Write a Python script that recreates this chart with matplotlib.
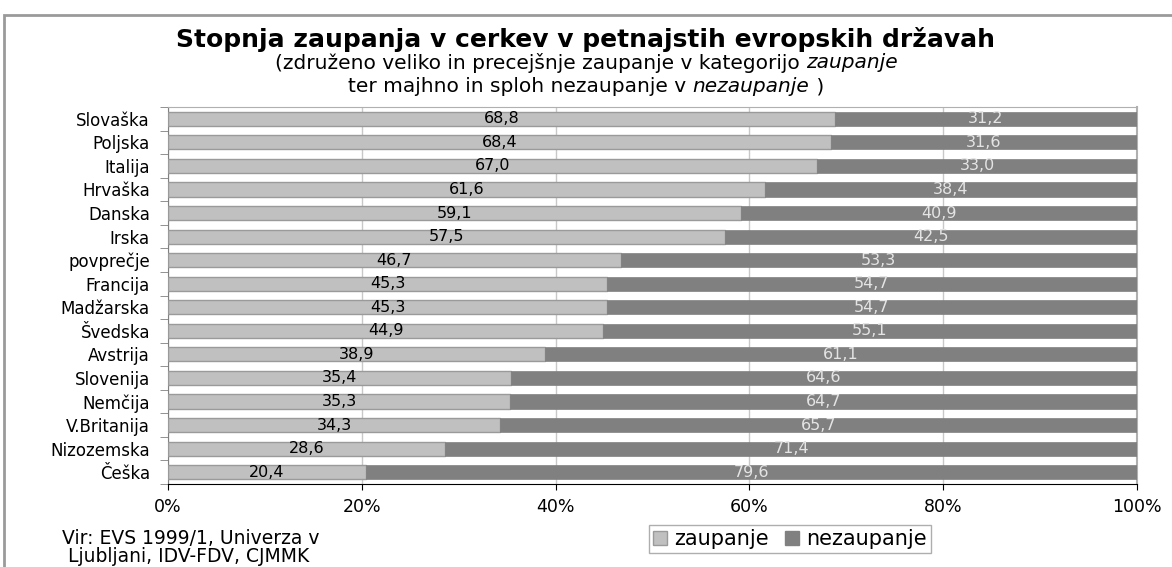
import matplotlib
matplotlib.use("Agg")
import matplotlib.pyplot as plt
from matplotlib.patches import Rectangle

countries = ["Slovaška", "Poljska", "Italija", "Hrvaška", "Danska", "Irska", "povprečje",
             "Francija", "Madžarska", "Švedska", "Avstrija", "Slovenija", "Nemčija",
             "V.Britanija", "Nizozemska", "Češka"]
zaupanje = [68.8, 68.4, 67.0, 61.6, 59.1, 57.5, 46.7, 45.3, 45.3, 44.9, 38.9, 35.4, 35.3, 34.3, 28.6, 20.4]
nezaupanje = [31.2, 31.6, 33.0, 38.4, 40.9, 42.5, 53.3, 54.7, 54.7, 55.1, 61.1, 64.6, 64.7, 65.7, 71.4, 79.6]
xticks = [0, 20, 40, 60, 80, 100]
xticklabels = ["0%", "20%", "40%", "60%", "80%", "100%"]

plt.rcParams['font.family'] = ['DejaVu Sans']

W, H = 1172, 567
fig = plt.figure(figsize=(W / 100, H / 100), dpi=100)

# outer frame (left and top edges visible, like the reference)
fig.patches.append(Rectangle((4 / W, -0.1), 1.2, (H - 15) / H + 0.1, transform=fig.transFigure,
                             fill=False, edgecolor="#9a9a9a", linewidth=2))

ax = fig.add_axes([168 / W, 1 - 484 / H, (1137 - 168) / W, (484 - 107) / H])
n = len(countries)
y = list(range(n))
ax.barh(y, zaupanje, height=0.6, color="#c0c0c0", edgecolor="#9a9a9a", linewidth=1, zorder=3)
ax.barh(y, nezaupanje, left=zaupanje, height=0.6, color="#808080", edgecolor="#808080",
        linewidth=0.5, zorder=3)
for i in range(n):
    ax.text(zaupanje[i] / 2, i, f"{zaupanje[i]:.1f}".replace(".", ","), ha="center", va="center",
            fontsize=11.5, color="black", zorder=4)
    ax.text(zaupanje[i] + nezaupanje[i] / 2, i, f"{nezaupanje[i]:.1f}".replace(".", ","),
            ha="center", va="center", fontsize=11.5, color="#e4e4e4", zorder=4)

ax.set_xlim(0, 100)
ax.set_ylim(n - 0.5, -0.5)
ax.set_xticks(xticks)
ax.set_xticklabels(xticklabels, fontsize=12.5)
ax.set_yticks(y)
ax.set_yticklabels(countries, fontsize=12)
ax.tick_params(axis="y", length=0, pad=13)
ax.tick_params(axis="x", length=4, direction="out", pad=6, color="black")
ax.set_yticks([i + 0.5 for i in range(-1, n)], minor=True)
ax.tick_params(axis="y", which="minor", length=6, color="#808080")
ax.grid(axis="x", color="#c8c8c8", linewidth=1, zorder=0)
for s in ["top", "right"]:
    ax.spines[s].set_color("#b0b0b0")
ax.spines["right"].set_linewidth(1.5)
ax.spines["left"].set_color("#808080")
ax.spines["bottom"].set_color("black")

fig.text(0.5, 1 - 40 / H, "Stopnja zaupanja v cerkev v petnajstih evropskih državah",
         ha="center", va="center", fontsize=18, fontweight="bold")

t1a = "(združeno veliko in precejšnje zaupanje v kategorijo "
t1b = "zaupanje"
t2a = "ter majhno in sploh nezaupanje v "
t2b = "nezaupanje"
t2c = " )"
fig.canvas.draw()
r = fig.canvas.get_renderer()

def line(parts, yc):
    texts = []
    for s, st in parts:
        texts.append(fig.text(0, yc, s, ha="left", va="center", fontsize=14.5, style=st))
    widths = [t.get_window_extent(r).width for t in texts]
    x = (W - sum(widths)) / 2
    for t, w in zip(texts, widths):
        t.set_x(x / W)
        x += w

line([(t1a, "normal"), (t1b, "italic")], 1 - 63 / H)
line([(t2a, "normal"), (t2b, "italic"), (t2c, "normal")], 1 - 87 / H)

handles = [Rectangle((0, 0), 1, 1, facecolor="#c0c0c0", edgecolor="#9a9a9a"),
           Rectangle((0, 0), 1, 1, facecolor="#808080", edgecolor="#808080")]
fig.legend(handles, ["zaupanje", "nezaupanje"], loc="center", bbox_to_anchor=(790 / W, 1 - 539 / H),
           ncol=2, fontsize=15, frameon=True, fancybox=False, edgecolor="#9a9a9a",
           handlelength=0.65, handleheight=0.65, handletextpad=0.35, columnspacing=0.8,
           borderpad=0.2)

fig.text(62 / W, 1 - 538 / H, "Vir: EVS 1999/1, Univerza v", ha="left", va="center", fontsize=13.5)
fig.text(68 / W, 1 - 557 / H, "Ljubljani, IDV-FDV, CJMMK", ha="left", va="center", fontsize=13.5)

fig.savefig("out.png", dpi=100)
